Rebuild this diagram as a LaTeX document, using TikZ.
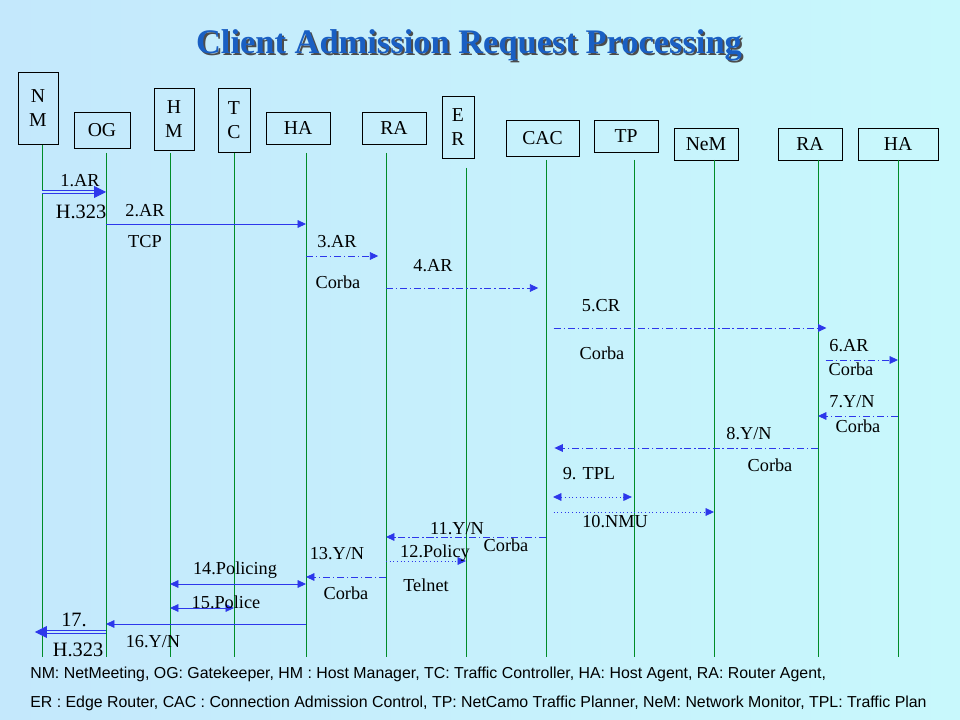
\documentclass[tikz,border=0pt]{standalone}
\usepackage{fontspec}
\setmainfont{Liberation Serif}
\newfontfamily\legendfont{Liberation Sans}
\usetikzlibrary{positioning,arrows.meta}
\definecolor{bgleft}{RGB}{196,232,252}
\definecolor{bgright}{RGB}{200,248,252}
\definecolor{lifegreen}{RGB}{0,140,40}
\definecolor{arrowblue}{RGB}{45,55,235}
\definecolor{titleblue}{RGB}{25,95,195}

\begin{document}
\begin{tikzpicture}[x=0.025cm,y=-0.025cm,
  box/.style={draw,inner sep=0pt,align=center,font=\fontsize{14}{17.5}\selectfont},
  life/.style={draw=lifegreen,line width=0.6pt},
  msg/.style={draw=arrowblue,line width=0.6pt,-{Triangle[length=6pt,width=5.5pt]}},
  corba/.style={msg,dash pattern=on 5pt off 2pt on 1pt off 2pt},
  dotmsg/.style={msg,dotted},
  fat/.style={draw=arrowblue,double=bgleft,double distance=1.2pt,line width=0.6pt,-{Triangle[length=8.5pt,width=8.5pt]}},
  lbl/.style={font=\fontsize{13}{15}\selectfont},
  biglbl/.style={font=\fontsize{14.5}{16}\selectfont},
  legend/.style={anchor=west,inner sep=0pt,font=\legendfont\fontsize{11.3}{13}\selectfont}]
\useasboundingbox (0,0) rectangle (960,720);
\shade[left color=bgleft,right color=bgright] (0,0) rectangle (960,720);

\node[font=\fontsize{24.5}{28}\selectfont\bfseries,text=black!70] (titleshadow) at (471,47) {Client Admission Request Processing};
\node[font=\fontsize{24.5}{28}\selectfont\bfseries,text=titleblue] (title) at (469,45) {Client Admission Request Processing};

% entities
\node[box,minimum width=1cm,minimum height=1.8cm] (nmbox) at (38,108) {N\\M};
\node[box,minimum width=1.4cm,minimum height=0.9cm] (ogbox) at (102,130) {OG};
\node[box,minimum width=1cm,minimum height=1.55cm] (hmbox) at (174,119) {H\\M};
\node[box,minimum width=0.8cm,minimum height=1.6cm] (tcbox) at (234,120) {T\\C};
\node[box,minimum width=1.6cm,minimum height=0.8cm] (habox) at (298,128) {HA};
\node[box,minimum width=1.6cm,minimum height=0.8cm] (rabox) at (394,128) {RA};
\node[box,minimum width=0.8cm,minimum height=1.55cm] (erbox) at (458,127) {E\\R};
\node[box,minimum width=1.825cm,minimum height=0.9cm] (cacbox) at (542.5,138) {CAC};
\node[box,minimum width=1.6cm,minimum height=0.8cm] (tpbox) at (626,136) {TP};
\node[box,minimum width=1.6cm,minimum height=0.8cm] (nembox) at (706,144) {NeM};
\node[box,minimum width=1.6cm,minimum height=0.8cm] (rbbox) at (810,144) {RA};
\node[box,minimum width=2cm,minimum height=0.8cm] (hbbox) at (898,144) {HA};

% lifelines
\foreach \n/\x/\t in {nm/42/145,og/106/153,hm/170/153,tc/234/153,ha/306/153,ra/386/153,
                      er/466/168,cac/546/160,tp/634/160,nem/714/160,rb/818/160,hb/898/160}{
  \coordinate (\n) at (\x,\t);
  \draw[life] (\n) -- (\x,657);
}

% messages
\draw[fat] (nm |- 0,192) -- (og |- 0,192);
\node[lbl] (m1) at (80,181) {1.AR};
\node[biglbl] (p1) at (81,212) {H.323};

\draw[msg] (og |- 0,224) -- (ha |- 0,224);
\node[lbl] (m2) at (145,211) {2.AR};
\node[lbl] (p2) at (145,242) {TCP};

\draw[corba,shorten >=5.5pt] (ha |- 0,256) -- (ra |- 0,256);
\node[lbl] (m3) at (337,242) {3.AR};
\node[lbl] (p3) at (338,282) {Corba};

\draw[corba,shorten >=5.5pt] (ra |- 0,288) -- (cac |- 0,288);
\node[lbl] (m4) at (433,266) {4.AR};

\draw[corba,shorten <=5.5pt,shorten >=-6pt] (cac |- 0,328) -- (rb |- 0,328);
\node[lbl] (m5) at (601,306) {5.CR};
\node[lbl] (p5) at (602,353) {Corba};

\draw[corba,shorten <=5.5pt] (rb |- 0,360) -- (hb |- 0,360);
\node[lbl] (m6) at (849,346) {6.AR};
\node[lbl] (p6) at (851,369) {Corba};

\draw[corba] (hb |- 0,416) -- (rb |- 0,416);
\node[lbl] (m7) at (852,402) {7.Y/N};
\node[lbl] (p7) at (858,426) {Corba};

\draw[corba,shorten >=6pt] (rb |- 0,448) -- (cac |- 0,448);
\node[lbl] (m8) at (749,434) {8.Y/N};
\node[lbl] (p8) at (770,465) {Corba};

\draw[dotmsg,{Triangle[length=6pt,width=5.5pt]}-{Triangle[length=6pt,width=5.5pt]},shorten <=5pt,shorten >=1.5pt] (cac |- 0,497) -- (tp |- 0,497);
\node[lbl] (m9) at (589,474) {9. TPL};

\draw[dotmsg,shorten <=5.5pt] (cac |- 0,512) -- (nem |- 0,512);
\node[lbl] (m10) at (615,522) {10.NMU};

\draw[corba] (cac |- 0,537) -- (ra |- 0,537);
\node[lbl] (m11) at (457,529) {11.Y/N};
\node[lbl] (p11) at (506,545) {Corba};

\draw[dotmsg] (ra |- 0,561) -- (er |- 0,561);
\node[lbl] (m12) at (435,553) {12.Policy};
\node[lbl] (p12) at (426,585) {Telnet};

\draw[corba] (ra |- 0,577) -- (ha |- 0,577);
\node[lbl] (m13) at (337,554) {13.Y/N};
\node[lbl] (p13) at (346,593) {Corba};

\draw[msg,{Triangle[length=6pt,width=5.5pt]}-{Triangle[length=6pt,width=5.5pt]}] (hm |- 0,584) -- (ha |- 0,584);
\node[lbl] (m14) at (235,570) {14.Policing};

\draw[msg,{Triangle[length=6pt,width=5.5pt]}-{Triangle[length=6pt,width=5.5pt]}] (hm |- 0,608) -- (tc |- 0,608);
\node[lbl] (m15) at (226,602) {15.Police};

\draw[msg] (ha |- 0,624) -- (og |- 0,624);
\node[lbl] (m16) at (153,642) {16.Y/N};

\draw[fat,shorten >=-5pt] (og |- 0,632) -- (nm |- 0,632);
\node[biglbl] (m17) at (74,620) {17.};
\node[biglbl] (p17) at (78,650) {H.323};

% legend
\node[legend] (leg1) at (30,674)
  {NM: NetMeeting, OG: Gatekeeper, HM : Host Manager, TC: Traffic Controller, HA: Host Agent, RA: Router Agent,};
\node[legend] (leg2) at (30,703)
  {ER : Edge Router, CAC : Connection Admission Control, TP: NetCamo Traffic Planner, NeM: Network Monitor, TPL: Traffic Plan};
\end{tikzpicture}
\end{document}
